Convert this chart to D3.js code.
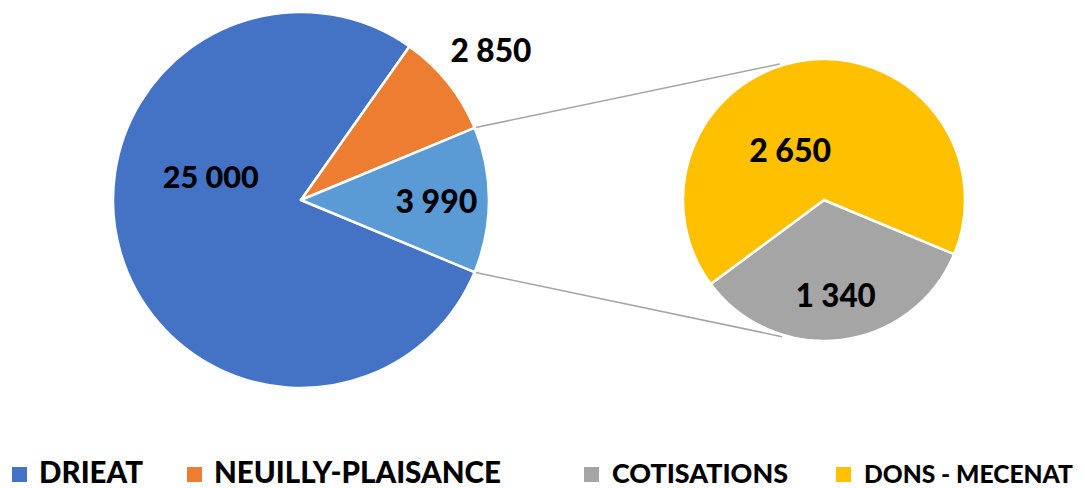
<!DOCTYPE html>
<html><head><meta charset="utf-8">
<script src="https://cdn.jsdelivr.net/npm/d3@7/dist/d3.min.js"></script>
<style>body{margin:0;background:#fff}svg{display:block}text{font-family:Lato,"Open Sans",sans-serif;font-weight:900;fill:#000}</style>
</head><body><svg id="c" width="1085" height="488"></svg>
<script>
const mainCategories = ["DRIEAT", "NEUILLY-PLAISANCE", "AUTRES"];
const mainValues = [25000, 2850, 3990];
const subCategories = ["COTISATIONS", "DONS - MECENAT"];
const subValues = [1340, 2650];
const mainLabels = ["25 000", "2 850", "3 990"];
const subLabels = ["1 340", "2 650"];
const legendNames = ["DRIEAT", "NEUILLY-PLAISANCE", "COTISATIONS", "DONS - MECENAT"];

const colors = {"DRIEAT":"#4472C4","NEUILLY-PLAISANCE":"#ED7D31","AUTRES":"#5B9BD5","COTISATIONS":"#A5A5A5","DONS - MECENAT":"#FFC000"};

const svg = d3.select("#c");
const mainC = {x:301, y:200, r:188};
const subC = {x:824, y:200, r:141};

const total = d3.sum(mainValues);
const otherShare = mainValues[2] / total;
const start = Math.PI/2 + otherShare*Math.PI;

const mainData = mainCategories.map((c,i)=>({c, v:mainValues[i], label:mainLabels[i]}));
const subData = subCategories.map((c,i)=>({c, v:subValues[i], label:subLabels[i]}));

const pieMain = d3.pie().sort(null).value(d=>d.v).startAngle(start).endAngle(start+2*Math.PI);
const pieSub = d3.pie().sort(null).value(d=>d.v).startAngle(start).endAngle(start+2*Math.PI);
const arcMain = d3.arc().innerRadius(0).outerRadius(mainC.r);
const arcSub = d3.arc().innerRadius(0).outerRadius(subC.r);

const mArcs = pieMain(mainData);
const sArcs = pieSub(subData);

// connector lines
const other = mArcs[2];
const pt = (c, r, a) => [c.x + r*Math.sin(a), c.y - r*Math.cos(a)];
const subTopA = -18*Math.PI/180, subBotA = Math.PI + 17*Math.PI/180;
const conn = [[pt(mainC, mainC.r+1, other.startAngle), pt(subC, subC.r+2, subTopA)],
              [pt(mainC, mainC.r+1, other.endAngle), pt(subC, subC.r+2, subBotA)]];
svg.selectAll("line.conn").data(conn).join("line").attr("class","conn")
  .attr("x1",d=>d[0][0]).attr("y1",d=>d[0][1]).attr("x2",d=>d[1][0]).attr("y2",d=>d[1][1])
  .attr("stroke","#A5A5A5").attr("stroke-width",1.6);

const gM = svg.append("g").attr("transform",`translate(${mainC.x},${mainC.y})`);
gM.selectAll("path").data(mArcs).join("path").attr("d",arcMain)
  .attr("fill",d=>colors[d.data.c]).attr("stroke","#fff").attr("stroke-width",2.5).attr("stroke-linejoin","round");
const gS = svg.append("g").attr("transform",`translate(${subC.x},${subC.y})`);
gS.selectAll("path").data(sArcs).join("path").attr("d",arcSub)
  .attr("fill",d=>colors[d.data.c]).attr("stroke","#fff").attr("stroke-width",2.5).attr("stroke-linejoin","round");

// fit helper: scale font so the text spans a target width
function fit(sel, widths){
  sel.each(function(d,i){
    const t=d3.select(this); const fs=parseFloat(t.style("font-size"));
    const w=this.getComputedTextLength();
    t.style("font-size",(fs*widths[i]/w).toFixed(2)+"px");
  });
}

// labels: radius fraction along mid angle plus nudges
const mainLabelPos = [{f:0.5, dx:0, dy:-50}, {f:1.28, dx:2, dy:0}, {f:0.72, dx:0, dy:0}];
const subLabelPos = [{f:0.68, dx:0, dy:0}, {f:0.43, dx:0, dy:0, ang:-34}];
const mainLabelW = [96, 81, 82], subLabelW = [80, 82];
function lab(g, arcs, c, pos, widths){
  const s = g.selectAll("text").data(arcs).join("text")
   .attr("text-anchor","middle").attr("dominant-baseline","central")
   .style("font-size","31px")
   .attr("x",(d,i)=>{const p=pos[i]; const a=p.ang!==undefined? p.ang*Math.PI/180 : (d.startAngle+d.endAngle)/2; return c.r*p.f*Math.sin(a)+p.dx;})
   .attr("y",(d,i)=>{const p=pos[i]; const a=p.ang!==undefined? p.ang*Math.PI/180 : (d.startAngle+d.endAngle)/2; return -c.r*p.f*Math.cos(a)+p.dy;})
   .text(d=>d.data.label);
  fit(s, widths);
}
lab(gM, mArcs, mainC, mainLabelPos, mainLabelW);
lab(gS, sArcs, subC, subLabelPos, subLabelW);

// legend
const legendX = [12, 187, 584, 836];
const legendW = [104, 287, 176, 209];
const lg = svg.selectAll("g.lg").data(legendNames).join("g").attr("class","lg")
  .attr("transform",(d,i)=>`translate(${legendX[i]},467)`);
lg.append("rect").attr("width",15).attr("height",15).attr("fill",d=>colors[d]);
const lt = lg.append("text").attr("x",(d,i)=>i<2?27:28).attr("y",(d,i)=>i<2?15.5:15.5).style("font-size",(d,i)=>i<2?"30px":"26px").text(d=>d);
fit(lt, legendW);
</script></body></html>
